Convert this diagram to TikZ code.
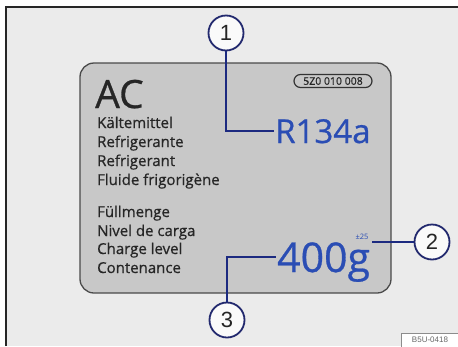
\documentclass[tikz,border=0pt]{standalone}
\usepackage{fontspec}
\setmainfont{Open Sans}[FakeBold=0.7]
\newfontfamily\plainfont{Open Sans}
\newfontfamily\numfont{Liberation Sans}
\usetikzlibrary{calc}
\definecolor{bgframe}{HTML}{EBEBEB}
\definecolor{panelfill}{HTML}{C8C8C8}
\definecolor{paneldraw}{HTML}{4A4A4A}
\definecolor{labelblue}{HTML}{2A4DB4}
\definecolor{linkblue}{HTML}{1C2A80}
\definecolor{circnavy}{HTML}{22296E}
\definecolor{textdark}{HTML}{262626}
\tikzset{
  lbl/.style={anchor=base west, inner sep=0pt, text=textdark, font=\fontsize{15}{18}\selectfont},
  callout/.style={circle, draw=circnavy, line width=1.8pt, fill=white!96!gray, minimum size=35pt, inner sep=0pt, font=\numfont\fontsize{22}{22}\selectfont, text=black!85},
  link/.style={draw=linkblue, line width=1.8pt},
}
\begin{document}
\begin{tikzpicture}[x=1pt,y=-1pt]
\useasboundingbox (0,0) rectangle (458,346);
\fill[white] (0,0) rectangle (458,346);
\fill[bgframe] (6,7) rectangle (458,346);
\draw[black!85, line width=2pt] (6,346) -- (6,7) -- (458,7);
% panel
\draw[fill=panelfill, draw=paneldraw, line width=1.3pt, rounded corners=14pt] (80,63) rectangle (391,293);
% texts
\node[anchor=base west, inner sep=0pt, text=textdark, font=\fontsize{39}{39}\selectfont] (ac) at (95,108) {AC};
\node[lbl] (t1) at (97,128) {Kältemittel};
\node[lbl] (t2) at (97,147) {Refrigerante};
\node[lbl] (t3) at (97,166) {Refrigerant};
\node[lbl] (t4) at (97,185) {Fluide frigorigène};
\node[lbl] (t5) at (97,217) {Füllmenge};
\node[lbl] (t6) at (97,236) {Nivel de carga};
\node[lbl] (t7) at (97,254) {Charge level};
\node[lbl] (t8) at (97,273) {Contenance};
% part number pill
\node[draw=black!80, line width=1.2pt, rounded corners=6.5pt, minimum width=78pt, minimum height=13pt, inner sep=0pt, text=black!85, font=\fontsize{10.5}{10.5}\selectfont] (pn) at (333,81) {5Z0 010 008};
% values
\node[anchor=base west, inner sep=1pt, text=labelblue, font=\fontsize{33}{33}\selectfont] (r134) at (274,143) {R134a};
\node[anchor=base west, inner sep=1pt, text depth=0pt, text=labelblue, font=\fontsize{41}{41}\selectfont] (n400) at (276,272) {400g};
\node[inner sep=0.5pt, text=labelblue, font=\plainfont\fontsize{7.5}{7.5}\selectfont] (pm) at (362,236.5) {±25};
% callouts
\node[callout] (c1) at (226,33) {1};
\node[callout] (c2) at (432,242) {2};
\node[callout] (c3) at (227,320) {3};
% connectors
\draw[link] (c1.south) |- (r134.west);
\draw[link] (c2.west) -- ([xshift=3pt]c2.west -| pm.east);
\draw[link] (c3.north) |- (n400.west);
% figure code
\node[draw=black!45, fill=white, line width=0.6pt, minimum width=57pt, minimum height=14pt, inner sep=0pt, text=black!60, font=\numfont\fontsize{8}{8}\selectfont] (code) at (430,340) {B5U-0418};
\end{tikzpicture}
\end{document}
